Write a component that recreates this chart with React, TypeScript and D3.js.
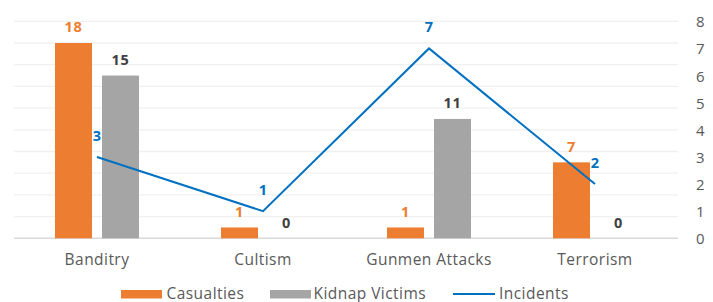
import React from "react";
import * as d3 from "d3";

const categories = ["Banditry", "Cultism", "Gunmen Attacks", "Terrorism"];
const casualties = [18, 1, 1, 7];
const kidnapVictims = [15, 0, 11, 0];
const incidents = [3, 1, 7, 2];
const rightTicks = [0, 1, 2, 3, 4, 5, 6, 7, 8];
const leftGrid = [0, 2, 4, 6, 8, 10, 12, 14, 16, 18, 20];
const seriesNames = ["Casualties", "Kidnap Victims"];

const W = 713;
const H = 302;
const plotLeft = 14;
const plotRight = 678;
const plotTop = 21.3;
const plotBottom = 238.3;

const ORANGE = "#ED7D31";
const GRAY = "#A5A5A5";
const BLUE = "#0070C0";
const FONT = "'Open Sans', 'Noto Sans', sans-serif";

export default function App() {
  const x = d3.scaleBand<string>().domain(categories).range([plotLeft, plotRight]).padding(0);
  const inner = d3
    .scaleBand<string>()
    .domain(seriesNames)
    .range([41, 125])
    .paddingInner(10 / 47)
    .paddingOuter(0);
  const yL = d3.scaleLinear().domain([0, 20]).range([plotBottom, plotTop]);
  const yR = d3.scaleLinear().domain([0, 8]).range([plotBottom, plotTop]);

  const line = d3
    .line<number>()
    .x((_, i) => (x(categories[i]) as number) + x.bandwidth() / 2)
    .y((d) => yR(d));

  const series = [
    { name: seriesNames[0], values: casualties, color: ORANGE, label: ORANGE },
    { name: seriesNames[1], values: kidnapVictims, color: GRAY, label: "#404040" },
  ];

  return (
    <svg width={W} height={H} style={{ position: "absolute", left: 0, top: 0 }}>
      <rect width={W} height={H} fill="#fff" />
      {leftGrid.map((g) => (
        <line
          key={g}
          x1={plotLeft}
          x2={plotRight}
          y1={yL(g)}
          y2={yL(g)}
          stroke={g === 0 ? "#D9D9D9" : "#F0F0F0"}
          strokeWidth={g === 0 ? 1.5 : 1.3}
        />
      ))}
      {series.map((s) =>
        categories.map((c, i) => {
          const bx = (x(c) as number) + (inner(s.name) as number);
          const v = s.values[i];
          return (
            <g key={s.name + c}>
              {v > 0 && (
                <rect
                  x={bx}
                  y={yL(v)}
                  width={inner.bandwidth()}
                  height={yL(0) - yL(v)}
                  fill={s.color}
                />
              )}
              <text
                x={bx + inner.bandwidth() / 2}
                y={yL(v) - 10.6}
                textAnchor="middle"
                fontFamily={FONT}
                fontWeight="bold"
                fontSize={14.5}
                letterSpacing={0.6}
                fill={s.label}
              >
                {v}
              </text>
            </g>
          );
        })
      )}
      <path d={line(incidents) || ""} fill="none" stroke={BLUE} strokeWidth={2} />
      {incidents.map((v, i) => (
        <text
          key={"inc" + i}
          x={(x(categories[i]) as number) + x.bandwidth() / 2}
          y={yR(v) - 16}
          textAnchor="middle"
          fontFamily={FONT}
          fontWeight="bold"
          fontSize={14.5}
          fill={BLUE}
        >
          {v}
        </text>
      ))}
      {rightTicks.map((t) => (
        <text
          key={"rt" + t}
          x={696}
          y={yR(t) + 6}
          fontFamily={FONT}
          fontSize={15}
          fill="#595959"
        >
          {t}
        </text>
      ))}
      {categories.map((c) => (
        <text
          key={"cat" + c}
          x={(x(c) as number) + x.bandwidth() / 2}
          y={265}
          textAnchor="middle"
          fontFamily={FONT}
          fontSize={15.5}
          letterSpacing={0.45}
          fill="#595959"
        >
          {c}
        </text>
      ))}
      <g>
        <rect x={121} y={290} width={41} height={8.5} fill={ORANGE} />
        <text x={166.5} y={298.5} fontFamily={FONT} fontSize={15.5} letterSpacing={0.45} fill="#595959">
          Casualties
        </text>
        <rect x={270} y={290} width={41} height={8.5} fill={GRAY} />
        <text x={313.5} y={298.5} fontFamily={FONT} fontSize={15.5} letterSpacing={0.45} fill="#595959">
          Kidnap Victims
        </text>
        <line x1={453} x2={495} y1={294} y2={294} stroke={BLUE} strokeWidth={2} />
        <text x={499} y={298.5} fontFamily={FONT} fontSize={15.5} letterSpacing={0.45} fill="#595959">
          Incidents
        </text>
      </g>
    </svg>
  );
}
